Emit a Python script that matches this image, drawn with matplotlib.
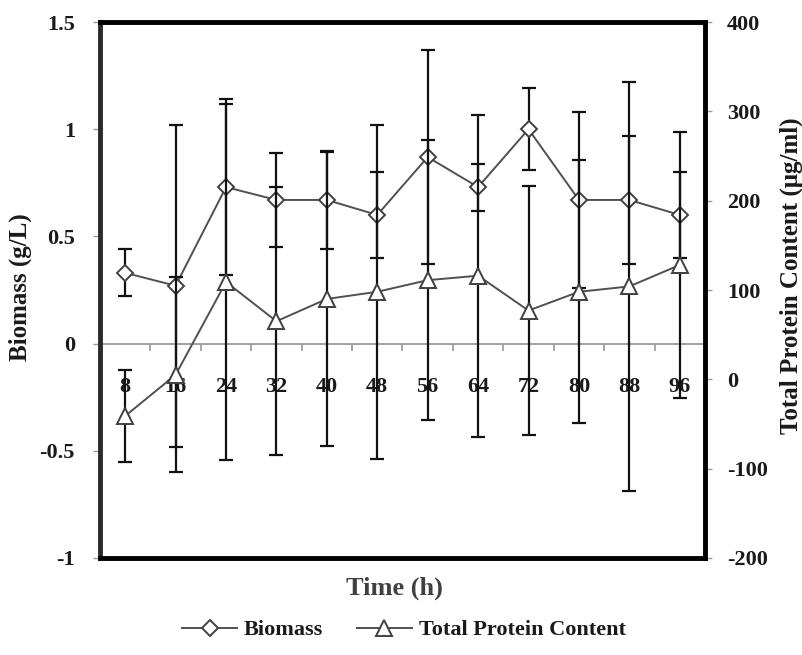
import matplotlib.pyplot as plt

time_h = [8, 16, 24, 32, 40, 48, 56, 64, 72, 80, 88, 96]
biomass = [0.33, 0.27, 0.73, 0.67, 0.67, 0.60, 0.87, 0.73, 1.00, 0.67, 0.67, 0.60]
biomass_err = [0.11, 0.75, 0.41, 0.22, 0.23, 0.20, 0.50, 0.11, 0.19, 0.41, 0.30, 0.20]
protein = [-41, 5, 109, 65, 90, 98, 111, 116, 77, 98, 104, 128]
protein_err = [51, 109, 199, 150, 165, 187, 157, 180, 139, 147, 229, 149]

left_ticks = [-1, -0.5, 0, 0.5, 1, 1.5]
left_labels = ['-1', '-0.5', '0', '0.5', '1', '1.5']
right_ticks = [-200, -100, 0, 100, 200, 300, 400]
right_labels = ['-200', '-100', '0', '100', '200', '300', '400']
time_labels = [str(t) for t in time_h]

plt.rcParams['font.family'] = 'Liberation Serif'
plt.rcParams['font.weight'] = 'bold'
plt.rcParams['axes.labelweight'] = 'bold'

text_col = '#1a1a1a'
line_col = '#505050'
err_col = '#111111'

fig = plt.figure(figsize=(8.03, 6.55), dpi=100, facecolor='white')
ax = fig.add_axes([0.1245, 0.1481, 0.7534, 0.8183])
ax2 = ax.twinx()

# Biomass on the left axis
ax.errorbar(time_h, biomass, yerr=biomass_err, fmt='none', ecolor=err_col,
            elinewidth=1.6, capsize=5, capthick=1.6, zorder=2)
l1, = ax.plot(time_h, biomass, color=line_col, lw=1.4, marker='D', ms=8,
              mfc='white', mec='#404040', mew=1.4, zorder=3, label='Biomass')

# Protein on the right axis
ax2.errorbar(time_h, protein, yerr=protein_err, fmt='none', ecolor=err_col,
             elinewidth=1.6, capsize=5, capthick=1.6, zorder=2)
l2, = ax2.plot(time_h, protein, color=line_col, lw=1.4, marker='^', ms=12,
               mfc='white', mec='#404040', mew=1.4, zorder=3,
               label='Total Protein Content')

ax.set_xlim(4, 100)
ax.set_ylim(-1, 1.5)
ax2.set_ylim(-200, 400)

# category axis crossing at zero
ax.spines['bottom'].set_position(('data', 0))
ax.spines['bottom'].set_color('#9a9a9a')
ax.spines['bottom'].set_linewidth(1.3)
for s in ['top', 'left', 'right']:
    ax.spines[s].set_visible(False)
for s in ['top', 'bottom', 'left', 'right']:
    ax2.spines[s].set_linewidth(3.5)
    ax2.spines[s].set_color('#000000')
ax2.spines['left'].set_color('#2a2a2a')

ax.set_xticks(time_h, time_labels)
ax.set_xticks([t + 4 for t in time_h[:-1]], minor=True)
ax.tick_params(axis='x', which='major', length=0, pad=24, labelsize=16,
               labelcolor=text_col)
ax.tick_params(axis='x', which='minor', direction='out', length=5, width=1.2,
               color='#9a9a9a')

ax.set_yticks(left_ticks, left_labels)
ax.tick_params(axis='y', direction='out', length=5, width=1, color='#999999',
               pad=13, labelsize=16, labelcolor=text_col)
ax2.set_yticks(right_ticks, right_labels)
ax2.tick_params(axis='y', direction='out', length=5, width=1, color='#999999',
                pad=11, labelsize=16, labelcolor=text_col)

ax.set_ylabel('Biomass (g/L)', fontsize=18, fontweight='bold', color=text_col)
ax.yaxis.set_label_coords(-0.112, 0.505)
ax2.set_ylabel('Total Protein Content (μg/ml)', fontsize=18, fontweight='bold',
               color=text_col)
ax2.yaxis.set_label_coords(1.124, 0.526)
ax.set_xlabel('Time (h)', fontsize=19, fontweight='bold', color='#404040')
ax.xaxis.set_label_coords(0.486, -0.035)

fig.legend(handles=[l1, l2], labels=['Biomass', 'Total Protein Content'],
           loc='center', bbox_to_anchor=(0.503, 0.038), ncol=2, frameon=False,
           fontsize=16, handlelength=2.5, handletextpad=0.3, columnspacing=1.5,
           labelcolor=text_col)

fig.savefig('out.png', dpi=100, facecolor='white')
